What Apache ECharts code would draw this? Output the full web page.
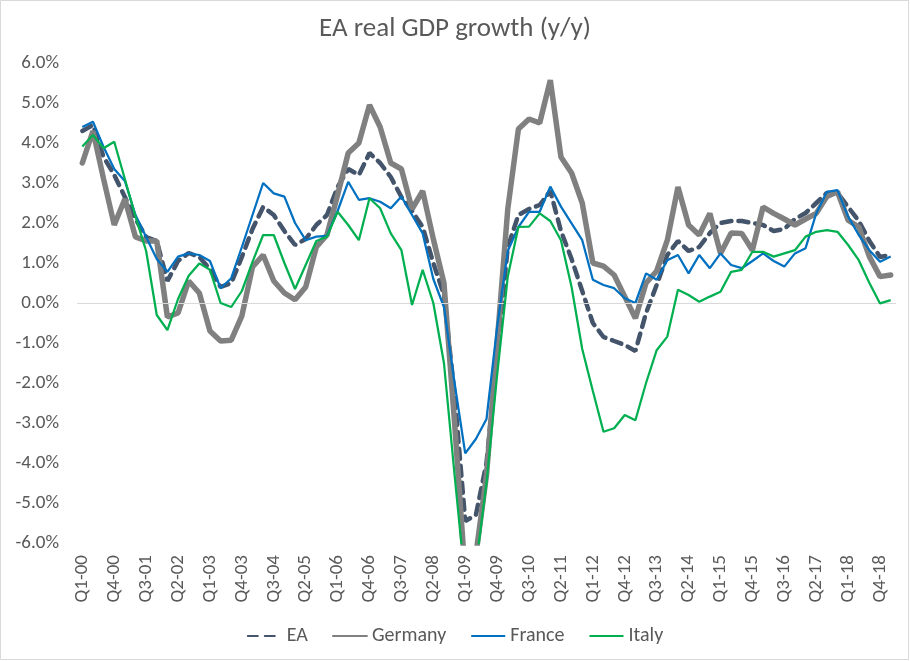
<!DOCTYPE html>
<html>
<head>
<meta charset="utf-8">
<script src="https://cdn.jsdelivr.net/npm/echarts@6/dist/echarts.min.js"></script>
<style>html,body{margin:0;padding:0;background:#fff;}#chart{width:910px;height:661px;}</style>
</head>
<body>
<div id="chart"></div>
<script>
var quarters = ["Q1-00","Q2-00","Q3-00","Q4-00","Q1-01","Q2-01","Q3-01","Q4-01","Q1-02","Q2-02","Q3-02","Q4-02",
"Q1-03","Q2-03","Q3-03","Q4-03","Q1-04","Q2-04","Q3-04","Q4-04","Q1-05","Q2-05","Q3-05","Q4-05",
"Q1-06","Q2-06","Q3-06","Q4-06","Q1-07","Q2-07","Q3-07","Q4-07","Q1-08","Q2-08","Q3-08","Q4-08",
"Q1-09","Q2-09","Q3-09","Q4-09","Q1-10","Q2-10","Q3-10","Q4-10","Q1-11","Q2-11","Q3-11","Q4-11",
"Q1-12","Q2-12","Q3-12","Q4-12","Q1-13","Q2-13","Q3-13","Q4-13","Q1-14","Q2-14","Q3-14","Q4-14",
"Q1-15","Q2-15","Q3-15","Q4-15","Q1-16","Q2-16","Q3-16","Q4-16","Q1-17","Q2-17","Q3-17","Q4-17",
"Q1-18","Q2-18","Q3-18","Q4-18","Q1-19"];

var ea = [4.3,4.45,3.65,3.2,2.65,2.1,1.65,1.55,0.55,1.05,1.25,1.15,
0.85,0.4,0.5,1.15,1.85,2.4,2.2,1.8,1.45,1.6,1.95,2.2,
2.9,3.35,3.2,3.75,3.5,3.15,2.65,2.3,1.9,1.0,0.2,-2.3,
-5.45,-5.3,-4.0,-1.3,1.4,2.2,2.35,2.45,2.8,1.8,1.1,0.3,
-0.5,-0.85,-0.95,-1.05,-1.2,-0.25,0.45,1.2,1.55,1.3,1.4,1.75,
2.0,2.05,2.05,2.0,1.95,1.8,1.85,2.1,2.25,2.5,2.75,2.75,
2.4,2.05,1.55,1.15,1.2];

var germany = [3.5,4.3,3.1,1.95,2.6,1.65,1.55,1.55,-0.35,-0.25,0.55,0.25,
-0.7,-0.95,-0.93,-0.32,0.9,1.2,0.55,0.25,0.08,0.4,1.4,1.7,
2.7,3.75,4.0,4.95,4.4,3.5,3.35,2.35,2.8,1.6,0.5,-3.0,
-6.8,-6.3,-4.3,-1.0,2.35,4.35,4.6,4.5,5.57,3.65,3.25,2.5,
1.0,0.92,0.7,0.16,-0.38,0.5,0.8,1.57,2.9,1.95,1.7,2.24,
1.24,1.75,1.74,1.32,2.4,2.24,2.1,1.95,2.1,2.24,2.66,2.78,
2.07,1.9,1.16,0.66,0.7];

var france = [4.4,4.53,3.9,3.35,3.05,2.2,1.65,1.1,0.78,1.16,1.24,1.2,
1.05,0.37,0.62,1.4,2.2,3.0,2.74,2.66,2.0,1.57,1.66,1.68,
2.3,3.03,2.58,2.62,2.53,2.37,2.66,2.2,1.74,0.6,-0.1,-2.0,
-3.76,-3.4,-2.9,-0.6,1.3,1.9,2.28,2.28,2.91,2.41,1.99,1.57,
0.58,0.45,0.37,0.12,0.0,0.74,0.58,1.07,1.2,0.74,1.2,0.87,
1.24,0.95,0.87,1.05,1.24,1.05,0.91,1.24,1.37,2.24,2.78,2.82,
2.16,1.7,1.32,1.03,1.16];

var italy = [3.91,4.2,3.87,4.03,3.1,2.16,1.3,-0.3,-0.68,0.1,0.68,0.99,
0.83,0.0,-0.1,0.3,1.03,1.7,1.7,1.0,0.35,0.95,1.55,1.66,
2.28,1.95,1.57,2.62,2.37,1.74,1.32,-0.05,0.83,0.0,-1.5,-4.3,
-7.0,-6.6,-4.5,-1.8,0.66,1.9,1.91,2.24,2.05,1.57,0.4,-1.15,
-2.2,-3.22,-3.13,-2.8,-2.93,-2.0,-1.18,-0.84,0.33,0.2,0.03,0.16,
0.28,0.78,0.83,1.28,1.28,1.16,1.24,1.32,1.66,1.78,1.82,1.78,
1.45,1.07,0.5,-0.01,0.07];

var FONT = "Carlito, 'Liberation Sans Narrow', 'Open Sans', sans-serif";
var TXT = '#595959';

var chart = echarts.init(document.getElementById('chart'), null, {renderer: 'canvas'});
chart.setOption({
  animation: false,
  backgroundColor: '#ffffff',
  textStyle: {fontFamily: FONT},
  title: {
    text: 'EA real GDP growth (y/y)',
    left: 'center', top: 11,
    textStyle: {fontFamily: FONT, fontSize: 27, fontWeight: 'normal', color: TXT}
  },
  graphic: [{
    type: 'rect', shape: {x: 0.5, y: 0.5, width: 908, height: 659},
    style: {fill: 'none', stroke: '#D9D9D9', lineWidth: 1}, silent: true
  }],
  grid: {left: 77, right: 14, top: 63, bottom: 118, containLabel: false},
  legend: {
    bottom: 10, left: 'center',
    itemWidth: 34, itemHeight: 14, itemGap: 24,
    itemStyle: {opacity: 0},
    textStyle: {fontFamily: FONT, fontSize: 20, color: TXT},
    data: ['EA', 'Germany', 'France', 'Italy']
  },
  xAxis: {
    type: 'category', data: quarters, boundaryGap: true,
    axisLine: {show: false, onZero: false},
    axisTick: {show: false},
    axisLabel: {interval: 2, rotate: 90, margin: 12, fontFamily: FONT, fontSize: 19, color: TXT}
  },
  yAxis: {
    type: 'value', min: -6, max: 6, interval: 1,
    axisLine: {show: false}, axisTick: {show: false},
    splitLine: {show: false},
    axisLabel: {margin: 18, fontFamily: FONT, fontSize: 19, color: TXT,
      formatter: function (v) { return v.toFixed(1) + '%'; }}
  },
  series: [
    {name: 'EA', type: 'line', data: ea, symbol: 'none', z: 2,
      lineStyle: {color: '#44546A', width: 4.5, type: [10, 7], cap: 'round'},
      itemStyle: {color: '#44546A'},
      markLine: {silent: true, symbol: 'none', label: {show: false},
        lineStyle: {color: '#D9D9D9', width: 1, type: 'solid'},
        data: [{yAxis: 0}]}},
    {name: 'Germany', type: 'line', data: germany, symbol: 'none', z: 3,
      lineStyle: {color: '#808080', width: 5.5, cap: 'round'}, itemStyle: {color: '#808080'}},
    {name: 'France', type: 'line', data: france, symbol: 'none', z: 4,
      lineStyle: {color: '#0070C0', width: 2.25}, itemStyle: {color: '#0070C0'}},
    {name: 'Italy', type: 'line', data: italy, symbol: 'none', z: 5,
      lineStyle: {color: '#00B050', width: 2.25}, itemStyle: {color: '#00B050'}}
  ]
});
</script>
</body>
</html>
